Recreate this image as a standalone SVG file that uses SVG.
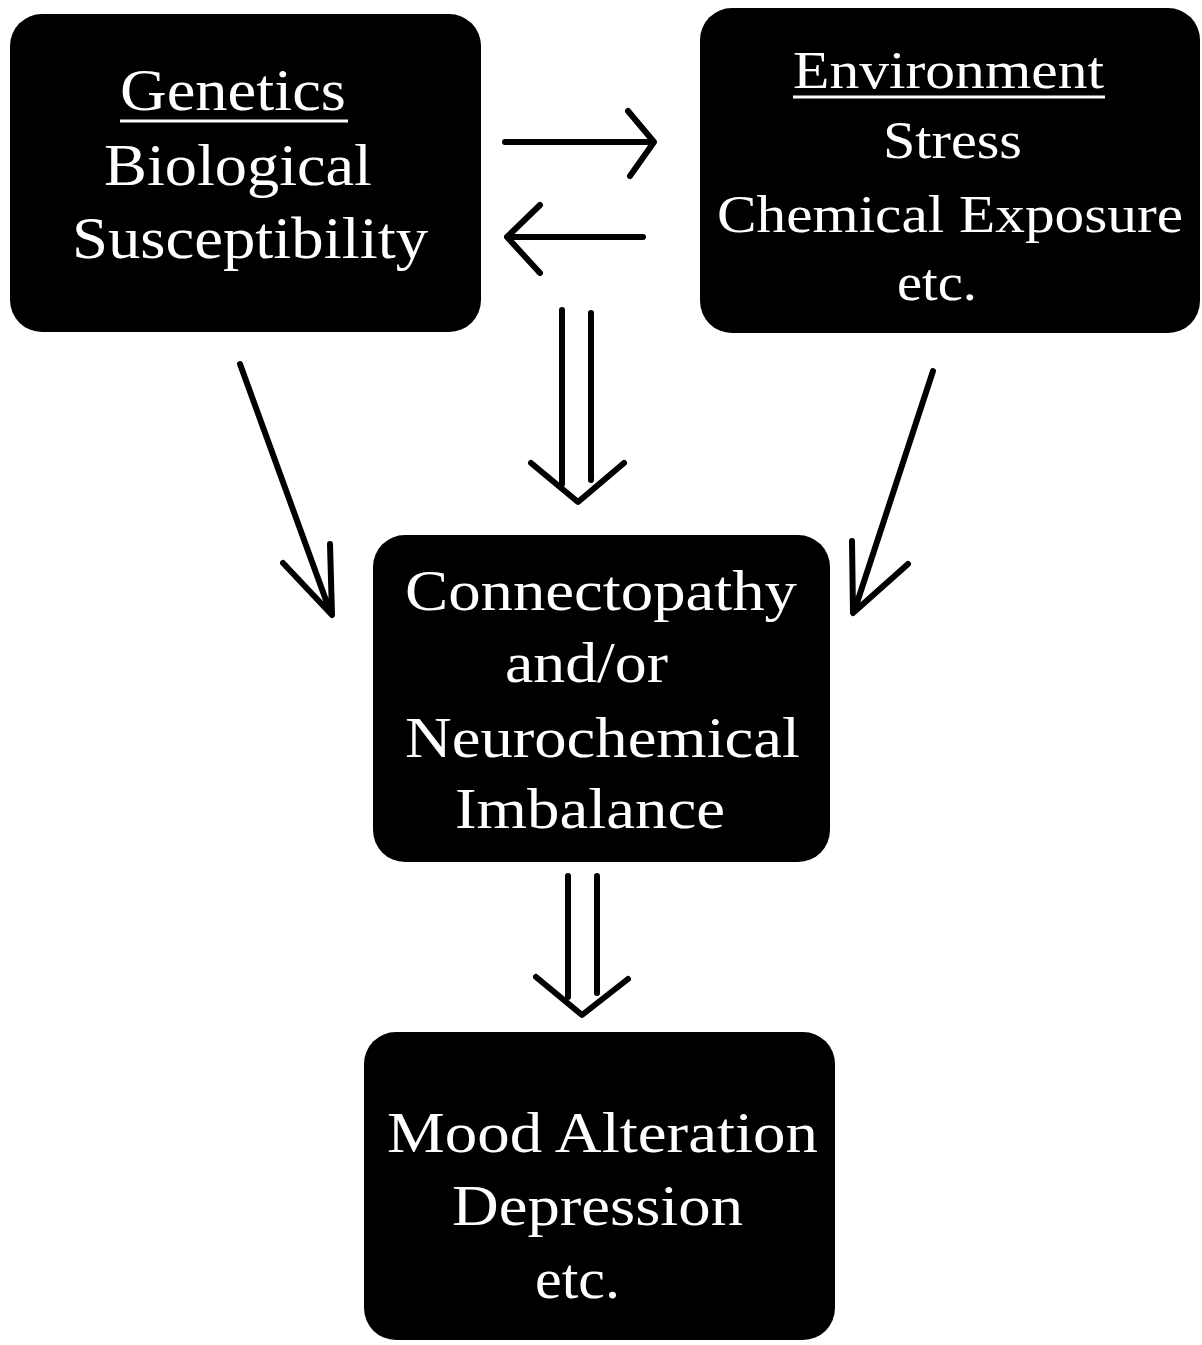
<svg xmlns="http://www.w3.org/2000/svg" width="1202" height="1345" viewBox="0 0 1202 1345">
<style>
.box{fill:#000;}
.t{fill:#fff;font-family:"Liberation Serif","Times New Roman",serif;text-anchor:start;}
.ul{stroke:#fff;stroke-width:3;}
.c{fill:none;stroke:#000;stroke-width:6;stroke-linecap:round;stroke-linejoin:round;}
</style>
<rect width="1202" height="1345" fill="#fff"/>
<g id="genetics">
<rect class="box" x="10" y="14" width="471" height="318" rx="32"/>
<text class="t" x="120" y="110" font-size="60" textLength="226" lengthAdjust="spacingAndGlyphs">Genetics</text>
<line class="ul" x1="120" y1="121" x2="348" y2="121"/>
<text class="t" x="104" y="185" font-size="60" textLength="268" lengthAdjust="spacingAndGlyphs">Biological</text>
<text class="t" x="72" y="258" font-size="60" textLength="356" lengthAdjust="spacingAndGlyphs">Susceptibility</text>
</g>
<g id="environment">
<rect class="box" x="700" y="8" width="500" height="325" rx="32"/>
<text class="t" x="793" y="88" font-size="52" textLength="311" lengthAdjust="spacingAndGlyphs">Environment</text>
<line class="ul" x1="793" y1="97" x2="1105" y2="97"/>
<text class="t" x="883" y="158" font-size="52" textLength="139" lengthAdjust="spacingAndGlyphs">Stress</text>
<text class="t" x="717" y="232" font-size="52" textLength="466" lengthAdjust="spacingAndGlyphs">Chemical Exposure</text>
<text class="t" x="897" y="300" font-size="52" textLength="80" lengthAdjust="spacingAndGlyphs">etc.</text>
</g>
<g id="connectopathy">
<rect class="box" x="373" y="535" width="457" height="327" rx="32"/>
<text class="t" x="405" y="610" font-size="56" textLength="392" lengthAdjust="spacingAndGlyphs">Connectopathy</text>
<text class="t" x="505" y="682" font-size="56" textLength="163" lengthAdjust="spacingAndGlyphs">and/or</text>
<text class="t" x="405" y="757" font-size="56" textLength="395" lengthAdjust="spacingAndGlyphs">Neurochemical</text>
<text class="t" x="455" y="828" font-size="56" textLength="270" lengthAdjust="spacingAndGlyphs">Imbalance</text>
</g>
<g id="mood">
<rect class="box" x="364" y="1032" width="471" height="308" rx="32"/>
<text class="t" x="387" y="1152" font-size="58" textLength="431" lengthAdjust="spacingAndGlyphs">Mood Alteration</text>
<text class="t" x="452" y="1225" font-size="58" textLength="291" lengthAdjust="spacingAndGlyphs">Depression</text>
<text class="t" x="535" y="1298" font-size="58" textLength="85" lengthAdjust="spacingAndGlyphs">etc.</text>
</g>
<g id="connectors">
<path class="c" d="M505 142 H653 M628 111 L654 142 L630 176"/>
<path class="c" d="M643 237 H508 M540 205 L507 237 L540 273"/>
<path class="c" d="M562 310 V484 M591 313 V480 M531 463 L578 502 L624 463"/>
<path class="c" d="M240 364 L331 614 M283 563 L332 615 L330 544"/>
<path class="c" d="M933 371 L854 612 M908 564 L853 613 L852 541"/>
<path class="c" d="M568 876 V997 M597 876 V993 M536 977 L582 1015 L628 979"/>
</g>
</svg>
